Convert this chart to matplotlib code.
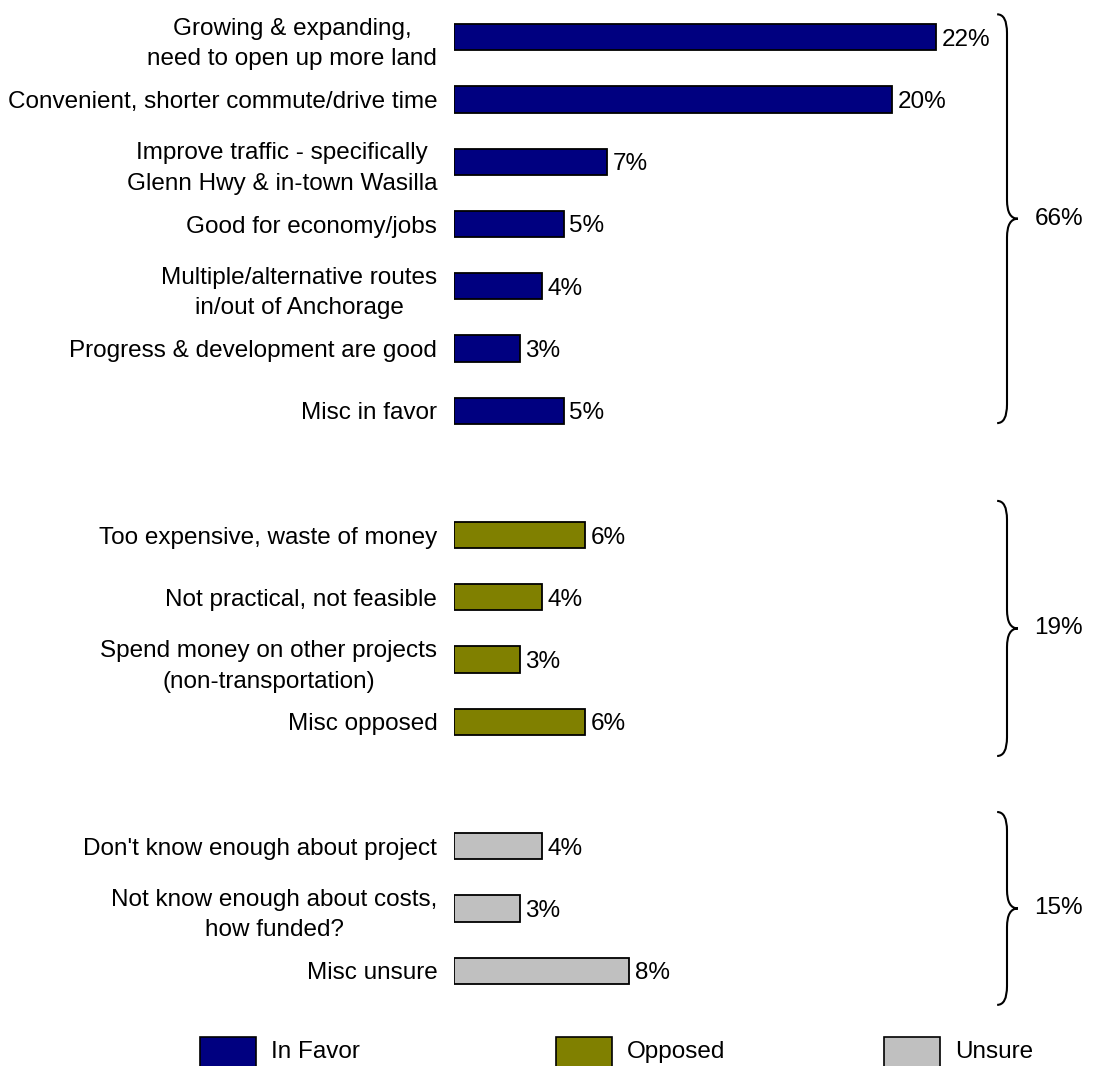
import numpy as np
import matplotlib
matplotlib.use("Agg")
from matplotlib import pyplot as plt
from matplotlib.path import Path
from matplotlib.patches import PathPatch, Rectangle

plt.rcParams['font.family'] = ['Liberation Sans', 'DejaVu Sans']

favor_labels = ["Growing & expanding,\nneed to open up more land",
                "Convenient, shorter commute/drive time",
                "Improve traffic - specifically\nGlenn Hwy & in-town Wasilla",
                "Good for economy/jobs",
                "Multiple/alternative routes\nin/out of Anchorage",
                "Progress & development are good",
                "Misc in favor"]
favor_values = [22, 20, 7, 5, 4, 3, 5]

opposed_labels = ["Too expensive, waste of money",
                  "Not practical, not feasible",
                  "Spend money on other projects\n(non-transportation)",
                  "Misc opposed"]
opposed_values = [6, 4, 3, 6]

unsure_labels = ["Don't know enough about project",
                 "Not know enough about costs,\nhow funded?",
                 "Misc unsure"]
unsure_values = [4, 3, 8]

group_names = ["In Favor", "Opposed", "Unsure"]
group_totals = ["66%", "19%", "15%"]
colors = ["#000080", "#808000", "#C0C0C0"]

W, H = 1104, 1066
fig = plt.figure(figsize=(W / 100, H / 100), dpi=100)
ax = fig.add_axes([454 / W, 58 / H, 650 / W, 1008 / H])

groups = [(favor_labels, favor_values), (opposed_labels, opposed_values),
          (unsure_labels, unsure_values)]

FS = 17.5
positions = []
labels = []
start = 0
spans = []
for gi, (labs, vals) in enumerate(groups):
    y = np.arange(len(vals)) + start
    ax.barh(y, vals, height=0.42, color=colors[gi], edgecolor="black", linewidth=1.3)
    for yy, v in zip(y, vals):
        ax.text(v + 0.25, yy, f"{v}%", va="center_baseline", ha="left", fontsize=FS)
    positions.extend(y)
    labels.extend(labs)
    spans.append((y[0], y[-1]))
    start = y[-1] + 2

ax.set_yticks(positions)
ax.set_yticklabels(labels, fontsize=FS, multialignment="center", linespacing=1.5)
ax.tick_params(axis="y", length=0, pad=12)
ax.set_xticks([])
ax.set_xlim(0, 650 / 21.9)
ax.set_ylim(15.6, -0.6)
for s in ax.spines.values():
    s.set_visible(False)


def brace(ax, x0, top, bot, w=0.45, tip=0.5, r=0.3):
    mid = (top + bot) / 2
    verts = [(x0 - w, top), (x0, top), (x0, top + r),
             (x0, mid - r), (x0, mid), (x0 + tip, mid),
             (x0, mid), (x0, mid + r),
             (x0, bot - r), (x0, bot), (x0 - w, bot)]
    codes = [Path.MOVETO, Path.CURVE3, Path.CURVE3,
             Path.LINETO, Path.CURVE3, Path.CURVE3,
             Path.CURVE3, Path.CURVE3,
             Path.LINETO, Path.CURVE3, Path.CURVE3]
    ax.add_patch(PathPatch(Path(verts, codes), fill=False, lw=1.5,
                           edgecolor="black", clip_on=False))
    return mid


brace_x = (1007 - 454) / 21.9
pad_top = [0.37, 0.55, 0.55]
pad_bot = [0.2, 0.55, 0.55]
for gi, (a, b) in enumerate(spans):
    mid = brace(ax, brace_x, a - pad_top[gi], b + pad_bot[gi])
    ax.text(brace_x + 1.25, mid, group_totals[gi], va="center", ha="left", fontsize=FS)

# legend along the bottom
box_x = [200, 556, 884]
for gi, name in enumerate(group_names):
    fig.add_artist(Rectangle((box_x[gi] / W, -2 / H), 56 / W, 31 / H,
                             facecolor=colors[gi], edgecolor="black", lw=1.2,
                             transform=fig.transFigure))
    fig.text((box_x[gi] + 71) / W, 14 / H, name, va="center", ha="left", fontsize=FS)

fig.savefig("out.png", dpi=100)
